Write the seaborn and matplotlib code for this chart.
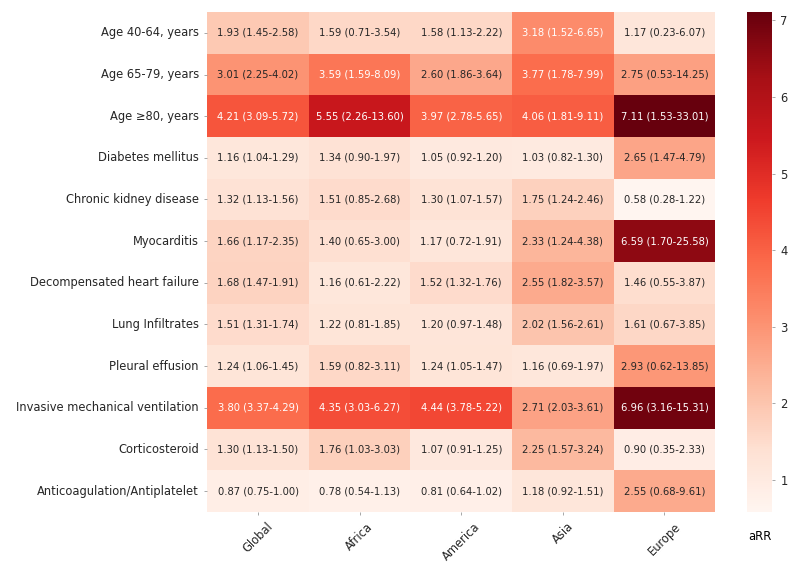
import numpy as np
import pandas as pd
import matplotlib
matplotlib.use("Agg")
import matplotlib.pyplot as plt
import seaborn as sns

factors = [
    "Age 40-64, years",
    "Age 65-79, years",
    "Age \u226580, years",
    "Diabetes mellitus",
    "Chronic kidney disease",
    "Myocarditis",
    "Decompensated heart failure",
    "Lung Infiltrates",
    "Pleural effusion",
    "Invasive mechanical ventilation",
    "Corticosteroid",
    "Anticoagulation/Antiplatelet",
]
regions = ["Global", "Africa", "America", "Asia", "Europe"]

# point estimates (aRR)
global_rr = [1.93, 3.01, 4.21, 1.16, 1.32, 1.66, 1.68, 1.51, 1.24, 3.80, 1.30, 0.87]
africa_rr = [1.59, 3.59, 5.55, 1.34, 1.51, 1.40, 1.16, 1.22, 1.59, 4.35, 1.76, 0.78]
america_rr = [1.58, 2.60, 3.97, 1.05, 1.30, 1.17, 1.52, 1.20, 1.24, 4.44, 1.07, 0.81]
asia_rr = [3.18, 3.77, 4.06, 1.03, 1.75, 2.33, 2.55, 2.02, 1.16, 2.71, 2.25, 1.18]
europe_rr = [1.17, 2.75, 7.11, 2.65, 0.58, 6.59, 1.46, 1.61, 2.93, 6.96, 0.90, 2.55]

# 95% confidence intervals
global_ci = ["1.45-2.58", "2.25-4.02", "3.09-5.72", "1.04-1.29", "1.13-1.56", "1.17-2.35",
             "1.47-1.91", "1.31-1.74", "1.06-1.45", "3.37-4.29", "1.13-1.50", "0.75-1.00"]
africa_ci = ["0.71-3.54", "1.59-8.09", "2.26-13.60", "0.90-1.97", "0.85-2.68", "0.65-3.00",
             "0.61-2.22", "0.81-1.85", "0.82-3.11", "3.03-6.27", "1.03-3.03", "0.54-1.13"]
america_ci = ["1.13-2.22", "1.86-3.64", "2.78-5.65", "0.92-1.20", "1.07-1.57", "0.72-1.91",
              "1.32-1.76", "0.97-1.48", "1.05-1.47", "3.78-5.22", "0.91-1.25", "0.64-1.02"]
asia_ci = ["1.52-6.65", "1.78-7.99", "1.81-9.11", "0.82-1.30", "1.24-2.46", "1.24-4.38",
           "1.82-3.57", "1.56-2.61", "0.69-1.97", "2.03-3.61", "1.57-3.24", "0.92-1.51"]
europe_ci = ["0.23-6.07", "0.53-14.25", "1.53-33.01", "1.47-4.79", "0.28-1.22", "1.70-25.58",
             "0.55-3.87", "0.67-3.85", "0.62-13.85", "3.16-15.31", "0.35-2.33", "0.68-9.61"]

rr = pd.DataFrame(
    np.column_stack([global_rr, africa_rr, america_rr, asia_rr, europe_rr]),
    index=factors, columns=regions,
)
ci = np.column_stack([global_ci, africa_ci, america_ci, asia_ci, europe_ci])
labels = np.array([[f"{rr.values[i, j]:.2f} ({ci[i, j]})" for j in range(len(regions))]
                   for i in range(len(factors))])

plt.rcParams["text.color"] = ".15"
plt.rcParams["xtick.color"] = ".6"
plt.rcParams["ytick.color"] = ".6"
plt.rcParams["xtick.labelcolor"] = ".15"
plt.rcParams["ytick.labelcolor"] = ".15"

fig = plt.figure(figsize=(8, 5.72), dpi=100)
ax = fig.add_axes([0.259, 0.105, 0.635, 0.874])
cax = fig.add_axes([0.934, 0.105, 0.031, 0.874])

sns.heatmap(
    rr, ax=ax, cbar_ax=cax, cmap="Reds",
    annot=labels, fmt="", annot_kws={"fontsize": 7.2},
)
ax.set_xticklabels(ax.get_xticklabels(), rotation=45, fontsize=8.3)
ax.set_yticklabels(ax.get_yticklabels(), rotation=0, fontsize=8.3)
ax.tick_params(length=2.5, width=0.6)
cax.tick_params(labelsize=8.3, length=2.5, width=0.6)
cax.set_xlabel("aRR", fontsize=8.3, labelpad=13)

fig.savefig("out.png", dpi=100)
